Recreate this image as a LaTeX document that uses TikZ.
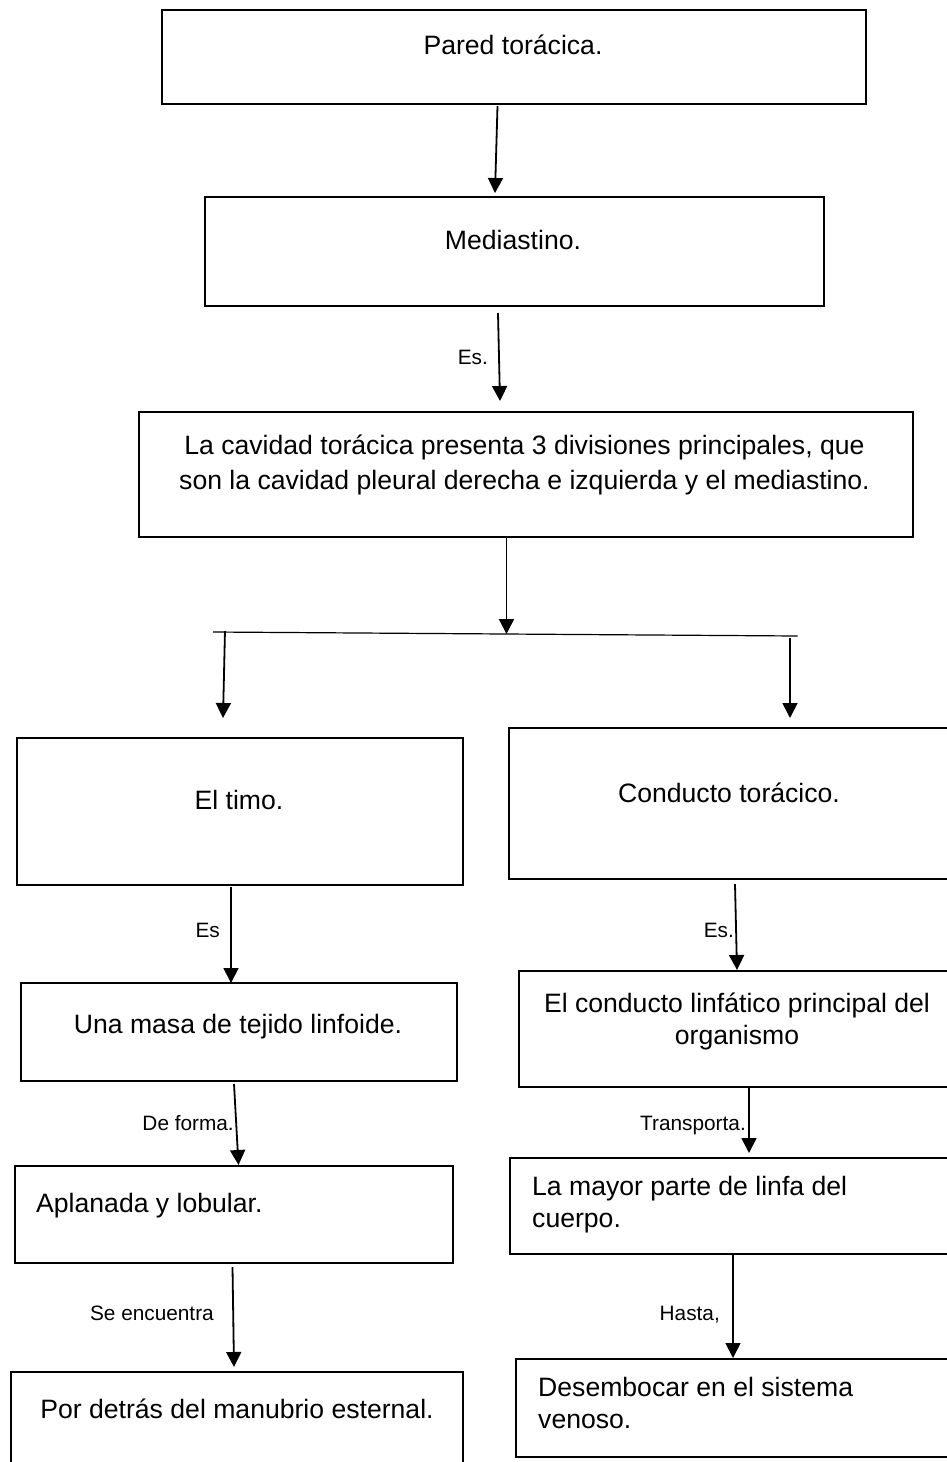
\documentclass[tikz,border=0pt]{standalone}
\usepackage{fontspec}
\setmainfont{Liberation Sans}
\usetikzlibrary{arrows.meta,calc}
\begin{document}
\begin{tikzpicture}[x=1pt,y=-1pt,
  box/.style={draw=black, line width=2pt, inner sep=0pt, outer sep=0pt},
  main/.style={font=\fontsize{26.6}{33}\selectfont, inner sep=0pt, anchor=base},
  mainl/.style={main, anchor=base west},
  lbl/.style={font=\fontsize{20.8}{25}\selectfont, inner sep=0pt, anchor=base east},
  arr/.style={line width=1.8pt, -{Triangle[length=15pt,width=15pt]}},
  hline/.style={line width=1.2pt}]
\useasboundingbox (0,0) rectangle (947,1462);
\clip (0,0) rectangle (947,1462);
\fill[white] (0,0) rectangle (947,1462);

% boxes
\node[box, minimum width=704pt, minimum height=94pt]  (b1)  at (514,57) {};
\node[box, minimum width=619pt, minimum height=109pt] (b2)  at (514.5,251.5) {};
\node[box, minimum width=774pt, minimum height=125pt] (b3)  at (525.5,474.5) {};
\node[box, minimum width=446pt, minimum height=147pt] (b4)  at (239.5,811.5) {};
\node[box, minimum width=476pt, minimum height=151pt] (b5)  at (747,803.5) {};
\node[box, minimum width=436pt, minimum height=98pt]  (b6)  at (239,1032) {};
\node[box, minimum width=466pt, minimum height=116pt] (b7)  at (752,1029) {};
\node[box, minimum width=438.5pt, minimum height=97pt] (b8) at (233.75,1214.5) {};
\node[box, minimum width=475pt, minimum height=96pt]  (b9)  at (747.5,1206) {};
\node[box, minimum width=452pt, minimum height=108pt] (b10) at (237,1426) {};
\node[box, minimum width=469pt, minimum height=98pt]  (b11) at (750.5,1408) {};

% texts
\node[main] (t1) at (513,54) {Pared torácica.};
\node[main] (t2) at (513,249) {Mediastino.};
\node[main] (t3a) at (524.5,454) {La cavidad torácica presenta 3 divisiones principales, que};
\node[main] (t3b) at (524.5,489) {son la cavidad pleural derecha e izquierda y el mediastino.};
\node[main] (t4) at (239,809) {El timo.};
\node[main] (t5) at (729,802) {Conducto torácico.};
\node[main] (t6) at (238,1033) {Una masa de tejido linfoide.};
\node[main] (t7a) at (737,1012) {El conducto linfático principal del};
\node[main] (t7b) at (737,1044) {organismo};
\node[mainl] (t8) at (36,1212) {Aplanada y lobular.};
\node[mainl] (t9a) at (532,1195) {La mayor parte de linfa del};
\node[mainl] (t9b) at (532,1227) {cuerpo.};
\node[main] (t10) at (237,1418) {Por detrás del manubrio esternal.};
\node[mainl] (t11a) at (538,1396) {Desembocar en el sistema};
\node[mainl] (t11b) at (538,1428) {venoso.};

% labels
\node[lbl] (l1) at (488,364) {Es.};
\node[lbl] (l2) at (220,937) {Es};
\node[lbl] (l3) at (734,937) {Es.};
\node[lbl] (l4) at (234,1130) {De forma.};
\node[lbl] (l5) at (746,1130) {Transporta.};
\node[lbl] (l6) at (214,1320) {Se encuentra};
\node[lbl] (l7) at (720,1320) {Hasta,};

% branching line
\coordinate (hl) at (213,632);
\coordinate (hr) at (797.6,636);
\coordinate (hm) at ($(hl)!0.502!(hr)$);
\coordinate (hll) at ($(hl)!0.0205!(hr)+(0,-1)$);
\coordinate (hrr) at ($(hr)+(-7.6,2)$);
\draw[hline] (hl) -- (hr);

% connectors
\draw[arr] ($(b1.south)+(-16.5,2)$) -- ($(b2.north)+(-19.5,-4)$);
\draw[arr] ($(b2.south)+(-16.5,7)$) -- ($(b3.north)+(-25.5,-11)$);
\draw[arr] (hm |- b3.south) -- (hm);
\draw[arr] (hll) -- ($(b4.north)+(-16.5,-20)$);
\draw[arr] (hrr) -- ($(b5.north)+(43,-10)$);
\draw[arr] ($(b4.south)+(-8.5,2)$) -- ($(b6.north)+(-8,0)$);
\draw[arr] ($(b5.south)+(-12,5)$) -- ($(b7.north)+(-15,-1)$);
\draw[arr] ($(b6.south)+(-5,3)$) -- ($(b8.north)+(4.75,-1)$);
\draw[arr] ($(b7.south)+(-3,0)$) -- ($(b9.north)+(1.5,-5)$);
\draw[arr] ($(b8.south)+(-1.25,4)$) -- ($(b10.north)+(-3,-5)$);
\draw[arr] ($(b9.south)+(-14.5,1)$) -- ($(b11.north)+(-17.5,-1)$);
\end{tikzpicture}
\end{document}
